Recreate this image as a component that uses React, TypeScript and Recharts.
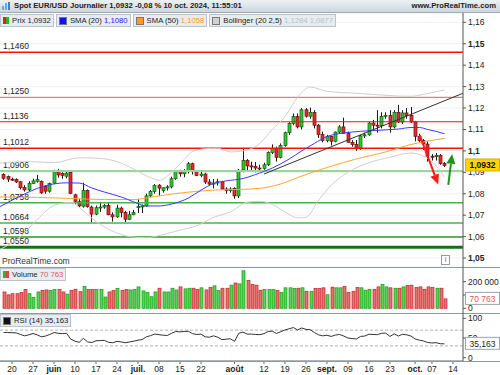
import React from 'react';
import { ComposedChart, Bar, Line, XAxis, YAxis, ReferenceLine, CartesianGrid } from 'recharts';

// daily candles, 16 May -> 10 Oct 2024
const opens = [1.0890, 1.0880, 1.0868, 1.0866, 1.0856, 1.0830, 1.0818, 1.0848, 1.0858, 1.0858,
  1.0834, 1.0812, 1.0850, 1.0906, 1.0894, 1.0882, 1.0900, 1.0795, 1.0763, 1.0742,
  1.0815, 1.0738, 1.0705, 1.0735, 1.0738, 1.0745, 1.0702, 1.0692, 1.0733, 1.0713,
  1.0681, 1.0702, 1.0735, 1.0740, 1.0743, 1.0790, 1.0810, 1.0840, 1.0815, 1.0828,
  1.0832, 1.0870, 1.0905, 1.0893, 1.0903, 1.0940, 1.0903, 1.0885, 1.0892, 1.0855,
  1.0845, 1.0850, 1.0856, 1.0822, 1.0815, 1.0825, 1.0790, 1.0912, 1.0955, 1.0930,
  1.0928, 1.0920, 1.0918, 1.0935, 1.0993, 1.1012, 1.0970, 1.1025, 1.1085, 1.1128,
  1.1160, 1.1112, 1.1192, 1.1162, 1.1180, 1.1120, 1.1077, 1.1048, 1.1068, 1.1045,
  1.1088, 1.1112, 1.1082, 1.1040, 1.1030, 1.1013, 1.1070, 1.1075, 1.1130, 1.1120,
  1.1118, 1.1160, 1.1165, 1.1112, 1.1180, 1.1135, 1.1177, 1.1165, 1.1135, 1.1068,
  1.1048, 1.1032, 1.0975, 1.0973, 1.0978, 1.0942];
const highs = [1.0895, 1.0885, 1.0875, 1.0872, 1.0860, 1.0840, 1.0858, 1.0870, 1.0888, 1.0862,
  1.0840, 1.0852, 1.0912, 1.0916, 1.0900, 1.0902, 1.0905, 1.0800, 1.0775, 1.0852,
  1.0820, 1.0745, 1.0745, 1.0760, 1.0752, 1.0760, 1.0713, 1.0748, 1.0740, 1.0720,
  1.0720, 1.0725, 1.0776, 1.0750, 1.0800, 1.0817, 1.0845, 1.0845, 1.0830, 1.0840,
  1.0880, 1.0910, 1.0912, 1.0915, 1.0948, 1.0945, 1.0907, 1.0905, 1.0898, 1.0868,
  1.0869, 1.0870, 1.0860, 1.0830, 1.0830, 1.0830, 1.0915, 1.1009, 1.0962, 1.0950,
  1.0948, 1.0935, 1.0945, 1.0998, 1.1030, 1.1020, 1.1035, 1.1090, 1.1135, 1.1175,
  1.1175, 1.1200, 1.1200, 1.1202, 1.1190, 1.1125, 1.1090, 1.1075, 1.1070, 1.1090,
  1.1120, 1.1155, 1.1090, 1.1050, 1.1050, 1.1075, 1.1085, 1.1135, 1.1145, 1.1190,
  1.1180, 1.1180, 1.1190, 1.1190, 1.1215, 1.1190, 1.1200, 1.1205, 1.1140, 1.1080,
  1.1055, 1.1045, 1.0985, 1.0990, 1.0985, 1.0948];
const lows = [1.0865, 1.0855, 1.0860, 1.0850, 1.0820, 1.0810, 1.0812, 1.0845, 1.0852, 1.0800,
  1.0800, 1.0805, 1.0845, 1.0875, 1.0870, 1.0872, 1.0798, 1.0750, 1.0735, 1.0735,
  1.0735, 1.0668, 1.0700, 1.0715, 1.0730, 1.0700, 1.0670, 1.0688, 1.0690, 1.0667,
  1.0677, 1.0700, 1.0710, 1.0710, 1.0740, 1.0785, 1.0800, 1.0790, 1.0805, 1.0815,
  1.0825, 1.0865, 1.0880, 1.0877, 1.0895, 1.0890, 1.0882, 1.0877, 1.0845, 1.0838,
  1.0825, 1.0838, 1.0818, 1.0800, 1.0805, 1.0777, 1.0780, 1.0900, 1.0910, 1.0905,
  1.0900, 1.0905, 1.0912, 1.0930, 1.0985, 1.0950, 1.0965, 1.1020, 1.1075, 1.1120,
  1.1105, 1.1100, 1.1155, 1.1150, 1.1105, 1.1060, 1.1040, 1.1040, 1.1025, 1.1040,
  1.1080, 1.1080, 1.1040, 1.1020, 1.1000, 1.1005, 1.1060, 1.1070, 1.1100, 1.1085,
  1.1105, 1.1150, 1.1085, 1.1105, 1.1130, 1.1125, 1.1150, 1.1130, 1.1045, 1.1040,
  1.1005, 1.0950, 1.0955, 1.0955, 1.0935, 1.0925];
const closes = [1.0872, 1.0868, 1.0864, 1.0855, 1.0828, 1.0818, 1.0848, 1.0860, 1.0866, 1.0804,
  1.0812, 1.0848, 1.0905, 1.0888, 1.0886, 1.0896, 1.0802, 1.0765, 1.0743, 1.0815,
  1.0740, 1.0705, 1.0735, 1.0738, 1.0745, 1.0702, 1.0692, 1.0733, 1.0713, 1.0681,
  1.0702, 1.0712, 1.0740, 1.0743, 1.0790, 1.0810, 1.0838, 1.0826, 1.0828, 1.0832,
  1.0870, 1.0906, 1.0893, 1.0905, 1.0940, 1.0903, 1.0885, 1.0892, 1.0855, 1.0845,
  1.0850, 1.0856, 1.0822, 1.0815, 1.0822, 1.0790, 1.0910, 1.0955, 1.0930, 1.0926,
  1.0920, 1.0918, 1.0935, 1.0993, 1.1012, 1.0970, 1.1025, 1.1085, 1.1128, 1.1160,
  1.1112, 1.1192, 1.1162, 1.1180, 1.1120, 1.1077, 1.1048, 1.1068, 1.1045, 1.1088,
  1.1112, 1.1082, 1.1040, 1.1030, 1.1013, 1.1070, 1.1075, 1.1130, 1.1120, 1.1118,
  1.1160, 1.1165, 1.1112, 1.1180, 1.1135, 1.1177, 1.1165, 1.1135, 1.1068, 1.1048,
  1.1032, 1.0975, 1.0973, 1.0978, 1.0942, 1.0932];
// volume in thousands
const volumes = [123, 101, 110, 110, 118, 141, 110, 82, 123, 133,
  138, 133, 141, 141, 123, 107, 133, 143, 125, 164,
  141, 141, 141, 141, 85, 123, 133, 149, 133, 141,
  138, 141, 161, 131, 118, 87, 123, 151, 123, 123,
  151, 138, 161, 146, 151, 151, 141, 154, 138, 156,
  169, 133, 151, 151, 174, 190, 184, 282, 210, 179,
  174, 136, 141, 141, 141, 133, 118, 154, 154, 149,
  151, 154, 128, 128, 149, 149, 154, 102, 159, 154,
  154, 164, 118, 128, 156, 154, 136, 143, 143, 161,
  179, 161, 154, 151, 151, 161, 172, 174, 156, 161,
  143, 161, 156, 151, 151, 70.763];
const rsi14 = [64, 64, 63.5, 63, 59, 55.5, 58, 61.5, 58, 53,
  55, 59, 64, 62, 61, 62, 47, 42, 39, 49,
  40, 38.5, 43, 43.5, 44, 39, 38, 41.5, 40, 38,
  40, 42, 44.5, 46, 53, 56, 60, 58.5, 57, 56.5,
  62, 66.5, 65.5, 66.5, 67, 61, 59, 60, 53, 52,
  55.5, 52, 46, 47, 48, 41.5, 62, 65, 60, 60,
  59, 58.5, 61, 66.5, 67.5, 61.5, 66, 70.5, 73.5, 76.5,
  70.5, 75.5, 72, 71, 64, 58, 55.5, 57, 54, 57.5,
  59, 55, 50, 48.5, 47.5, 54, 55, 59.5, 59, 58.5,
  62, 62.5, 54, 60.5, 55, 59.5, 58, 55, 47.5, 44.5,
  42.5, 38.5, 37.5, 38, 35.5, 35.163];

// indicators: [day index, value]
const sma20: [number, number][] = [[-0.86, 1.0740], [5, 1.0799], [8, 1.0825], [12, 1.0846], [15, 1.0851], [18, 1.0850],
  [21, 1.0827], [24, 1.0808], [28, 1.0785], [31, 1.0762], [34, 1.0743], [37, 1.0743], [40, 1.0752], [44, 1.0780],
  [47, 1.0817], [50, 1.0848], [53, 1.0860], [57, 1.0871], [61, 1.0897], [64, 1.0920], [68, 1.0962], [71, 1.1000],
  [74, 1.1035], [77, 1.1067], [80, 1.1081], [83, 1.1088], [87, 1.1094], [91, 1.1098], [94, 1.1102], [97, 1.1109],
  [99, 1.1109], [101, 1.1100], [103, 1.1091], [105, 1.1080]];
const sma50: [number, number][] = [[-0.86, 1.0785], [8, 1.0783], [16, 1.0778], [24, 1.0773], [31, 1.0773], [36, 1.0787],
  [41, 1.0801], [46, 1.0811], [51, 1.0818], [56, 1.0820], [61, 1.0825], [66, 1.0846], [71, 1.0883], [76, 1.0916],
  [81, 1.0946], [86, 1.0972], [91, 1.0995], [96, 1.1025], [101, 1.1046], [105, 1.1058]];
const bollUpper: [number, number][] = [[-0.86, 1.0943], [6, 1.0950], [12, 1.0945], [18, 1.0968], [23, 1.0965], [27, 1.0950],
  [31, 1.0915], [35, 1.0875], [37, 1.0862], [40, 1.0900], [43, 1.0960], [45, 1.0998], [48, 1.1010], [51, 1.1012],
  [54, 1.0995], [57, 1.1000], [61, 1.1035], [64, 1.1100], [67, 1.1160], [70, 1.1250], [73, 1.1298], [77, 1.1278],
  [85, 1.1268], [92, 1.1258], [97, 1.1255], [101, 1.1268], [105, 1.1284]];
const bollLower: [number, number][] = [[-0.86, 1.0540], [4, 1.0600], [8, 1.0680], [12, 1.0745], [16, 1.0760], [19, 1.0720],
  [22, 1.0670], [26, 1.0625], [30, 1.0600], [34, 1.0595], [38, 1.0610], [42, 1.0630], [46, 1.0650], [50, 1.0690],
  [54, 1.0715], [58, 1.0760], [61, 1.0765], [64, 1.0750], [67, 1.0715], [70, 1.0688], [72, 1.0690], [75, 1.0770],
  [78, 1.0840], [82, 1.0900], [87, 1.0945], [92, 1.0970], [97, 1.0990], [100, 1.0975], [103, 1.0930], [105, 1.0877]];

const resistances = [1.1460, 1.1250, 1.1136, 1.1012];
const supports = [1.0906, 1.0758, 1.0664, 1.0598, 1.0550];
const trendLine: [number, number][] = [[62, 1.0892], [109.4, 1.1269]];
const downArrow: [number, number][] = [[99.1, 1.1074], [103.5, 1.0843]];
const upArrow: [number, number][] = [[105.9, 1.0841], [106.8, 1.0986]];

const priceTicks = [1.05, 1.06, 1.07, 1.08, 1.09, 1.1, 1.11, 1.12, 1.13, 1.14, 1.15, 1.16];
const dateTicks = [
  { i: 2, label: '20' }, { i: 7, label: '27' }, { i: 12, label: 'juin' }, { i: 17, label: '10' },
  { i: 22, label: '17' }, { i: 27, label: '24' }, { i: 32, label: 'juil.' }, { i: 37, label: '08' },
  { i: 42, label: '15' }, { i: 47, label: '22' }, { i: 55, label: 'août' }, { i: 62, label: '12' },
  { i: 67, label: '19' }, { i: 72, label: '26' }, { i: 77, label: 'sept.' }, { i: 82, label: '09' },
  { i: 87, label: '16' }, { i: 92, label: '23' }, { i: 98, label: 'oct.' }, { i: 102, label: '07' },
  { i: 107, label: '14' },
];

const FONT = "'Liberation Sans', Arial, sans-serif";
const XD: [number, number] = [-0.86, 109.4];
const PRICE_D: [number, number] = [1.04582, 1.16435];
const VOL_D: [number, number] = [-35300, 310500];
const RSI_D: [number, number] = [-8.4, 113.5];
const AXIS_W = 37;

const candles = opens.map((o, i) => ({
  i,
  open: o,
  high: highs[i],
  low: lows[i],
  close: closes[i],
  range: [lows[i], highs[i]],
  vol: volumes[i] * 1000,
  rsi: rsi14[i],
  up: closes[i] >= o,
}));

const pts = (a: [number, number][]) => a.map(([i, v]) => ({ i, v }));
const seg = (a: [number, number][]) => a.map(([x, y]) => ({ x, y }));

const fmtPrice = (v: number) => String(Number(v.toFixed(2))).replace('.', ',');
const fmtLevel = (v: number) => v.toFixed(4).replace('.', ',');

const Candle = (props: any) => {
  const { x, y, width, height, payload } = props;
  if (x == null || payload == null) return null;
  const top = Math.min(y, y + height);
  const h = Math.abs(height);
  const k = h / (payload.high - payload.low || 1);
  const yO = top + (payload.high - payload.open) * k;
  const yC = top + (payload.high - payload.close) * k;
  const rc = Math.round(x + width / 2);
  const bTop = Math.min(yO, yC);
  const bH = Math.max(Math.abs(yO - yC), 1);
  return (
    <g>
      <line x1={rc + 0.5} x2={rc + 0.5} y1={top} y2={top + h} stroke="#1a1a1a" strokeWidth={1} />
      <rect x={rc - 1} y={bTop} width={3} height={bH}
        fill={payload.up ? '#33c433' : '#e52b2b'} stroke={payload.up ? '#0b5e0b' : '#6e0d0d'} strokeWidth={0.7} />
    </g>
  );
};

const VolBar = (props: any) => {
  const { x, y, width, height, payload } = props;
  if (x == null || payload == null) return null;
  const rc = Math.round(x + width / 2);
  return (
    <rect x={rc - 1} y={y} width={3} height={Math.max(height, 0)}
      fill={payload.up ? '#55d455' : '#e87070'} stroke={payload.up ? '#169a16' : '#c42222'} strokeWidth={0.7} />
  );
};

const Arrow = (color: string) => (props: any) => {
  const { x1, y1, x2, y2 } = props;
  if (x1 == null) return null;
  const a = Math.atan2(y2 - y1, x2 - x1);
  const len = 10;
  const half = 4.5;
  const bx = x2 - len * Math.cos(a);
  const by = y2 - len * Math.sin(a);
  const px = -Math.sin(a) * half;
  const py = Math.cos(a) * half;
  return (
    <g>
      <line x1={x1} y1={y1} x2={bx} y2={by} stroke={color} strokeWidth={2} />
      <polygon points={`${x2},${y2} ${bx + px},${by + py} ${bx - px},${by - py}`} fill={color} />
    </g>
  );
};

const LevelLabel = (props: any) => {
  const { viewBox, text } = props;
  if (!viewBox) return null;
  return <text x={viewBox.x + 3} y={viewBox.y - 3} fontSize={8.5} fill="#222" fontFamily={FONT}>{text}</text>;
};

const AxisBox = (props: any) => {
  const { viewBox, text, bg, color, bold, border } = props;
  if (!viewBox) return null;
  const x = viewBox.x + viewBox.width + 2;
  const y = viewBox.y;
  return (
    <g>
      <rect x={x + 0.5} y={y - 6.5} width={34} height={12} fill={bg} stroke={border} strokeWidth={1} />
      <text x={x + 17.5} y={y + 3} textAnchor="middle" fontSize={8.5} fontWeight={bold ? 'bold' : 'normal'}
        fill={color} fontFamily={FONT}>{text}</text>
    </g>
  );
};

const PriceTick = (props: any) => {
  const { x, y, payload } = props;
  const v = payload.value;
  const bold = Math.abs(v * 20 - Math.round(v * 20)) < 1e-6;
  return (
    <text x={x} y={y + 3} fontSize={8.5} fontWeight={bold ? 'bold' : 'normal'} fill="#222" fontFamily={FONT}>
      {fmtPrice(v)}
    </text>
  );
};

const SmallTick = (fmt: (v: number) => string) => (props: any) => {
  const { x, y, payload } = props;
  return <text x={x} y={y + 3} fontSize={8.5} fill="#222" fontFamily={FONT}>{fmt(payload.value)}</text>;
};

const DateTick = (props: any) => {
  const { x, y, payload } = props;
  const t = dateTicks.find(d => d.i === payload.value);
  if (!t) return null;
  const month = isNaN(Number(t.label));
  return (
    <text x={x} y={y + 7} textAnchor="middle" fontSize={8.5} fontWeight={month ? 'bold' : 'normal'}
      fill="#222" fontFamily={FONT}>{t.label}</text>
  );
};

// transparent chart on top of a panel, holding only the last-value box so it covers the tick text
const ValueOverlay = ({ top, height, domain, value, box }: any) => (
  <div style={{ position: 'absolute', left: 0, top, pointerEvents: 'none' }}>
    <ComposedChart width={500} height={height} data={candles} margin={{ top: 0, right: 0, bottom: 0, left: 0 }}>
      <XAxis dataKey="i" type="number" domain={XD} allowDataOverflow hide />
      <YAxis orientation="right" width={AXIS_W} domain={domain} allowDataOverflow tick={false} axisLine={false} tickLine={false} />
      <ReferenceLine y={value} stroke="none" label={box} />
    </ComposedChart>
  </div>
);

const legendBox: React.CSSProperties = {
  display: 'flex', alignItems: 'center', height: 11, padding: '0 2px 0 2px', marginRight: 2,
  background: '#e7ecf0', border: '1px solid #b9c4cc', fontSize: 7.7, color: '#222', whiteSpace: 'nowrap',
};
const sq = (c: string): React.CSSProperties => ({ width: 6, height: 6, background: c, marginRight: 3, border: '0.5px solid #777' });
const Split = () => (
  <span style={{ display: 'flex', marginRight: 3 }}>
    <span style={{ width: 3, height: 7, background: '#d22' }} />
    <span style={{ width: 3, height: 7, background: '#2b2' }} />
  </span>
);

export default function App() {
  return (
    <div style={{ position: 'absolute', left: 0, top: 0, width: 500, height: 375, background: '#fff', fontFamily: FONT, overflow: 'hidden' }}>
      {/* header */}
      <div style={{
        position: 'absolute', left: 0, top: 0, width: 500, height: 12,
        background: 'linear-gradient(#edf1f4, #cdd6dd)', borderBottom: '1px solid #9eacb7',
        fontSize: 7.7, fontWeight: 'bold', color: '#222', lineHeight: '12px',
      }}>
        <span style={{ position: 'absolute', left: 2, top: 2, display: 'flex', alignItems: 'flex-end', height: 8 }}>
          <span style={{ width: 2, height: 4, background: '#6aa8e0', marginRight: 1 }} />
          <span style={{ width: 2, height: 7, background: '#6aa8e0', marginRight: 1 }} />
          <span style={{ width: 2, height: 8, background: '#3d7fc4' }} />
        </span>
        <span style={{ position: 'absolute', left: 14 }}>Spot EUR/USD Journalier 1,0932 -0,08 % 10 oct. 2024, 11:55:01</span>
        <span style={{ position: 'absolute', right: 4 }}>www.ProRealTime.com</span>
      </div>

      {/* price panel */}
      <div style={{ position: 'absolute', left: 0, top: 13 }}>
        <ComposedChart width={500} height={254} data={candles} margin={{ top: 0, right: 0, bottom: 0, left: 0 }}>
          <CartesianGrid vertical={false} stroke="#f1f1f1" />
          <XAxis dataKey="i" type="number" domain={XD} allowDataOverflow hide />
          <YAxis orientation="right" width={AXIS_W} domain={PRICE_D} allowDataOverflow ticks={priceTicks}
            tick={PriceTick} tickSize={3} tickMargin={2} interval={0} axisLine={{ stroke: '#555' }} tickLine={{ stroke: '#555' }} />
          {resistances.map((v, k) => (
            <ReferenceLine key={'r' + k} y={v} stroke={k === 1 ? '#ff5050' : '#ff1010'} strokeWidth={k === 0 || k === 3 ? 1.5 : 1}
              label={<LevelLabel text={fmtLevel(v)} />} />
          ))}
          {supports.map((v, k) => (
            <ReferenceLine key={'s' + k} y={v}
              stroke={k === 0 ? '#9ad69a' : k === 4 ? '#137313' : k === 3 ? '#2a9a2a' : '#46b446'}
              strokeWidth={k === 0 ? 2 : k === 4 ? 3 : 1.5}
              label={<LevelLabel text={fmtLevel(v)} />} />
          ))}
          <Line data={pts(bollUpper)} dataKey="v" type="monotone" stroke="#cfcfcf" strokeWidth={1} dot={false} isAnimationActive={false} />
          <Line data={pts(bollLower)} dataKey="v" type="monotone" stroke="#cfcfcf" strokeWidth={1} dot={false} isAnimationActive={false} />
          <Line data={pts(sma50)} dataKey="v" type="monotone" stroke="#ffa435" strokeWidth={1} dot={false} isAnimationActive={false} />
          <Line data={pts(sma20)} dataKey="v" type="monotone" stroke="#3a3aff" strokeWidth={1} dot={false} isAnimationActive={false} />
          <ReferenceLine segment={seg(trendLine)} stroke="#333" strokeWidth={1} ifOverflow="hidden" />
          <Bar dataKey="range" barSize={3} shape={Candle} isAnimationActive={false} />
          <ReferenceLine segment={seg(downArrow)} shape={Arrow('#ff1a1a')} ifOverflow="visible" />
          <ReferenceLine segment={seg(upArrow)} shape={Arrow('#1e961e')} ifOverflow="visible" />
        </ComposedChart>
      </div>
      <ValueOverlay top={13} height={254} domain={PRICE_D} value={closes[closes.length - 1]}
        box={<AxisBox text="1,0932" bg="#ffd400" color="#111" bold border="#d8b000" />} />

      {/* legend row */}
      <div style={{ position: 'absolute', left: 0, top: 14, display: 'flex' }}>
        <div style={legendBox}><Split />Prix 1,0932</div>
        <div style={legendBox}><span style={sq('#1010ff')} />SMA (20)&nbsp;<span style={{ color: '#2020ff' }}>1,1080</span></div>
        <div style={legendBox}><span style={sq('#ff9a20')} />SMA (50)&nbsp;<span style={{ color: '#ff9a20' }}>1,1058</span></div>
        <div style={legendBox}><span style={sq('#d0d0d0')} />Bollinger (20 2,5)&nbsp;<span style={{ color: '#c0c0c0' }}>1,1284 1,0877</span></div>
      </div>
      <div style={{ position: 'absolute', left: 2, top: 256, fontSize: 8.5, color: '#333' }}>ProRealTime.com</div>
      <div style={{ position: 'absolute', left: 441, top: 255, width: 7, height: 8, border: '1px solid #99a', fontSize: 7, lineHeight: '8px', textAlign: 'center', color: '#667' }}>i</div>

      {/* volume panel */}
      <div style={{ position: 'absolute', left: 0, top: 267, width: 500, borderTop: '1px solid #8d9aa5' }} />
      <div style={{ position: 'absolute', left: 0, top: 267 }}>
        <ComposedChart width={500} height={46} data={candles} margin={{ top: 0, right: 0, bottom: 0, left: 0 }}>
          <XAxis dataKey="i" type="number" domain={XD} allowDataOverflow hide />
          <YAxis orientation="right" width={AXIS_W} domain={VOL_D} allowDataOverflow ticks={[0, 100000, 200000]}
            tick={SmallTick(v => (v === 0 ? '0' : `${v / 1000} 000`))} tickSize={3} tickMargin={2} interval={0}
            axisLine={{ stroke: '#555' }} tickLine={{ stroke: '#555' }} />
          <Bar dataKey="vol" barSize={3} shape={VolBar} isAnimationActive={false} />
        </ComposedChart>
      </div>
      <ValueOverlay top={267} height={46} domain={VOL_D} value={volumes[volumes.length - 1] * 1000}
        box={<AxisBox text="70 763" bg="#fff" color="#e05a5a" border="#9aa4ac" />} />
      <div style={{ position: 'absolute', left: 0, top: 268, display: 'flex' }}>
        <div style={legendBox}>
          <span style={{ display: 'flex', marginRight: 3 }}>
            <span style={{ width: 3, height: 7, background: '#2b2' }} />
            <span style={{ width: 3, height: 7, background: '#d44' }} />
          </span>
          Volume&nbsp;<span style={{ color: '#e05a5a' }}>70 763</span>
        </div>
      </div>

      {/* RSI panel */}
      <div style={{ position: 'absolute', left: 0, top: 313, width: 500, borderTop: '1px solid #8d9aa5' }} />
      <div style={{ position: 'absolute', left: 0, top: 313 }}>
        <ComposedChart width={500} height={62} data={candles} margin={{ top: 0, right: 0, bottom: 0, left: 0 }}>
          <XAxis dataKey="i" type="number" domain={XD} allowDataOverflow ticks={dateTicks.map(d => d.i)} interval={0}
            tick={DateTick} height={14} tickSize={3} tickMargin={1} axisLine={{ stroke: '#666' }} tickLine={{ stroke: '#666' }} />
          <YAxis orientation="right" width={AXIS_W} domain={RSI_D} allowDataOverflow ticks={[0, 50, 100]}
            tick={SmallTick(v => String(v))} tickSize={3} tickMargin={2} interval={0}
            axisLine={{ stroke: '#555' }} tickLine={{ stroke: '#555' }} />
          <ReferenceLine y={70} stroke="#b0b0b0" strokeDasharray="3 2" />
          <ReferenceLine y={30} stroke="#b0b0b0" strokeDasharray="3 2" />
          <Line dataKey="rsi" type="linear" stroke="#333" strokeWidth={1} dot={false} isAnimationActive={false} />
        </ComposedChart>
      </div>
      <ValueOverlay top={313} height={48} domain={RSI_D} value={rsi14[rsi14.length - 1]}
        box={<AxisBox text="35,163" bg="#fff" color="#222" border="#9aa4ac" />} />
      <div style={{ position: 'absolute', left: 0, top: 314, display: 'flex' }}>
        <div style={legendBox}><span style={sq('#111')} />RSI (14) 35,163</div>
      </div>
      <div style={{ position: 'absolute', left: 0, top: 361, width: 500, borderTop: '1px solid #8d9aa5' }} />
    </div>
  );
}
